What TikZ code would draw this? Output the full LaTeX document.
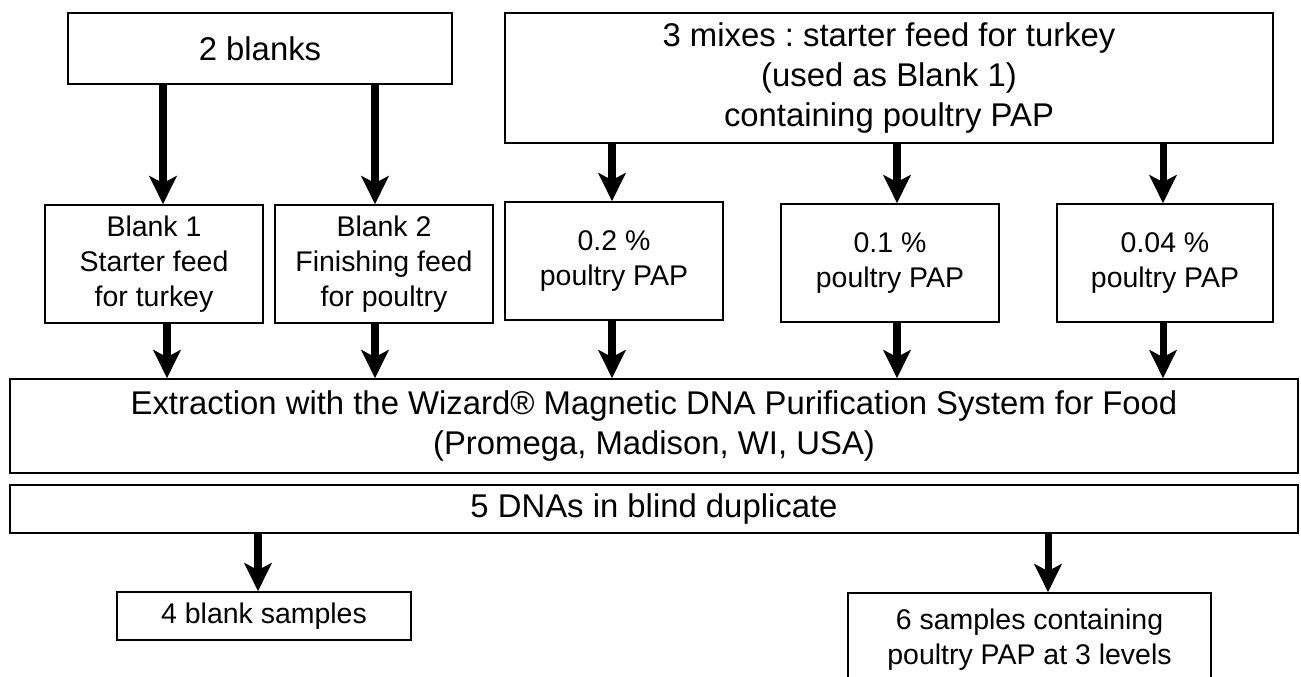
\documentclass[tikz,border=0pt]{standalone}
\usepackage{fontspec}
\setmainfont{Liberation Sans}
\frenchspacing
\usetikzlibrary{arrows.meta,calc}
\tikzset{box/.style={draw, line width=0.9pt, align=center, inner sep=0pt},
  big/.style={font=\fontsize{18.7}{22.7}\selectfont},
  small/.style={font=\fontsize{16.2}{19.8}\selectfont},
  arr/.style={line width=4pt, -{Stealth[length=16pt,width=15.5pt,inset=4pt]}}}

\begin{document}
\begin{tikzpicture}[x=0.02cm,y=-0.02cm]
  \clip (0,0) rectangle (1301,676);
  \fill[white] (0,0) rectangle (1301,676);
  % sources
  \node[box,big,minimum width=7.68cm,minimum height=1.42cm] (blanks) at (260,48.5) {2 blanks};
  \node[box,big,minimum width=15.36cm,minimum height=2.6cm] (mixes) at (889,78)
    {3 mixes : starter feed for turkey\\(used as Blank 1)\\containing poultry PAP};
  % feeds
  \node[box,small,minimum width=4.36cm,minimum height=2.36cm] (b1) at (154,264) {Blank 1\\Starter feed\\for turkey};
  \node[box,small,minimum width=4.36cm,minimum height=2.36cm] (b2) at (384,264) {Blank 2\\Finishing feed\\for poultry};
  \node[box,small,minimum width=4.36cm,minimum height=2.36cm] (p02) at (614,261) {0.2 \%\\poultry PAP};
  \node[box,small,minimum width=4.36cm,minimum height=2.36cm] (p01) at (890,263) {0.1 \%\\poultry PAP};
  \node[box,small,minimum width=4.32cm,minimum height=2.36cm] (p004) at (1165,263) {0.04 \%\\poultry PAP};
  % extraction
  \node[box,big,minimum width=25.76cm,minimum height=1.88cm] (extr) at (654,426)
    {Extraction with the Wizard® Magnetic DNA Purification System for Food\\(Promega, Madison, WI, USA)};
  \node[box,big,minimum width=25.76cm,minimum height=0.96cm] (dna) at (654,509) {5 DNAs in blind duplicate};
  % samples
  \node[box,small,minimum width=5.88cm,minimum height=0.96cm] (blank4) at (264,616) {4 blank samples};
  \node[box,small,minimum width=7.26cm,minimum height=1.88cm] (six) at (1029.5,640)
    {6 samples containing\\poultry PAP at 3 levels};

  \draw[arr] ($(blanks.south -| b1.north)+(9,0)$) -- ($(b1.north)+(9,0)$);
  \draw[arr] ($(blanks.south -| b2.north)+(-9,0)$) -- ($(b2.north)+(-9,0)$);
  \foreach \n/\dx in {p02/-2, p01/7, p004/-2}
    \draw[arr] ($(mixes.south -| \n.north)+(\dx,0)$) -- ($(\n.north)+(\dx,0)$);
  \foreach \n/\dx in {b1/13, b2/-9, p02/-2, p01/7, p004/-2}
    \draw[arr] ($(\n.south)+(\dx,0)$) -- ($(extr.north -| \n.south)+(\dx,0)$);
  \draw[arr] ($(dna.south -| blank4.north)+(-6,0)$) -- ($(blank4.north)+(-6,0)$);
  \draw[arr] ($(dna.south -| six.north)+(18.5,0)$) -- ($(six.north)+(18.5,0)$);
\end{tikzpicture}
\end{document}
